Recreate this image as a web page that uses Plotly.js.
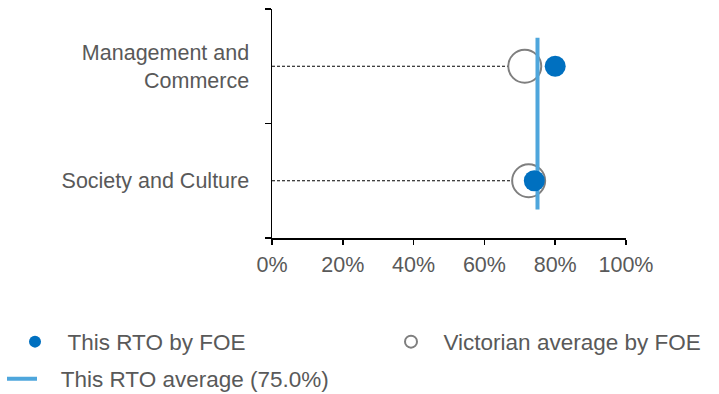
<!DOCTYPE html>
<html>
<head>
<meta charset="utf-8">
<script src="https://cdn.plot.ly/plotly-3.0.1.min.js"></script>
<style>html,body{margin:0;padding:0;background:#fff;}#chart{width:719px;height:394px;}</style>
</head>
<body>
<div id="chart"></div>
<script>
// ---- data ----
const categories = ["Management and<br>Commerce", "Society and Culture"];
const thisRTO = [0.80, 0.741];
const victorianAvg = [0.714, 0.725];
const rtoAverage = 0.75;
const xTickVals = [0, 0.2, 0.4, 0.6, 0.8, 1.0];

// ---- derived positions ----
const yIdx = categories.map((_, i) => i);
const dashX = [], dashY = [];
yIdx.forEach((i) => { dashX.push(0, victorianAvg[i], null); dashY.push(i, i, null); });
const n = categories.length;
const sp = "\u00a0";

const font = {family: "Liberation Sans, Arial, sans-serif", color: "#595959"};

const traces = [
  {x: dashX, y: dashY, mode: "lines", line: {color: "#000", width: 1, dash: "3px,2px"},
   showlegend: false, hoverinfo: "skip"},
  {x: victorianAvg, y: yIdx, name: sp + sp + "Victorian average by FOE", mode: "markers",
   marker: {size: 33, color: "#ffffff", line: {color: "#7F7F7F", width: 2}},
   legend: "legend2"},
  {x: [rtoAverage, rtoAverage], y: [-0.25, n - 0.75], name: sp + sp + sp + "This RTO average (" + (rtoAverage*100).toFixed(1) + "%)",
   mode: "lines", line: {color: "#4EA6DC", width: 4}, legend: "legend3"},
  {x: thisRTO, y: yIdx, name: sp + sp + "This RTO by FOE", mode: "markers",
   marker: {size: 21, color: "#0070C0"}, legend: "legend"}
];

const legBase = {orientation: "h", xref: "container", yref: "container", xanchor: "left", yanchor: "middle",
  font: Object.assign({}, font, {size: 22.5}), bgcolor: "rgba(0,0,0,0)", borderwidth: 0, tracegroupgap: 0};

const layout = {
  width: 719, height: 394,
  margin: {l: 272, r: 93, t: 9, b: 156},
  paper_bgcolor: "#fff", plot_bgcolor: "#fff",
  font: Object.assign({}, font, {size: 21.5}),
  xaxis: {range: [0, 1], tickvals: xTickVals, tickformat: ".0%", showgrid: false, zeroline: false,
    showline: true, linecolor: "#000", linewidth: 1.5, ticks: "outside", ticklen: 5, tickcolor: "#000", tickwidth: 1.5,
    ticklabelstandoff: 2, tickfont: Object.assign({}, font, {size: 21.5}), fixedrange: true},
  yaxis: {range: [n - 0.5, -0.5], tickvals: yIdx, ticktext: categories, showgrid: false, zeroline: false,
    showline: true, linecolor: "#000", linewidth: 1.5, ticks: "", ticklabelstandoff: 17,
    minor: {tickvals: [-0.5, 0.5, 1.5], ticks: "outside", ticklen: 6, tickcolor: "#000", tickwidth: 1.5, showgrid: false},
    tickfont: Object.assign({}, font, {size: 21.5}), fixedrange: true},
  showlegend: true,
  legend: Object.assign({}, legBase, {x: 15/719, y: 1 - 342/394, itemsizing: "constant"}),
  legend2: Object.assign({}, legBase, {x: 391/719, y: 1 - 342/394, itemsizing: "constant"}),
  legend3: Object.assign({}, legBase, {x: 2/719, y: 1 - 379/394, itemsizing: "trace"})
};

Plotly.newPlot("chart", traces, layout, {displayModeBar: false, staticPlot: true});
</script>
</body>
</html>
